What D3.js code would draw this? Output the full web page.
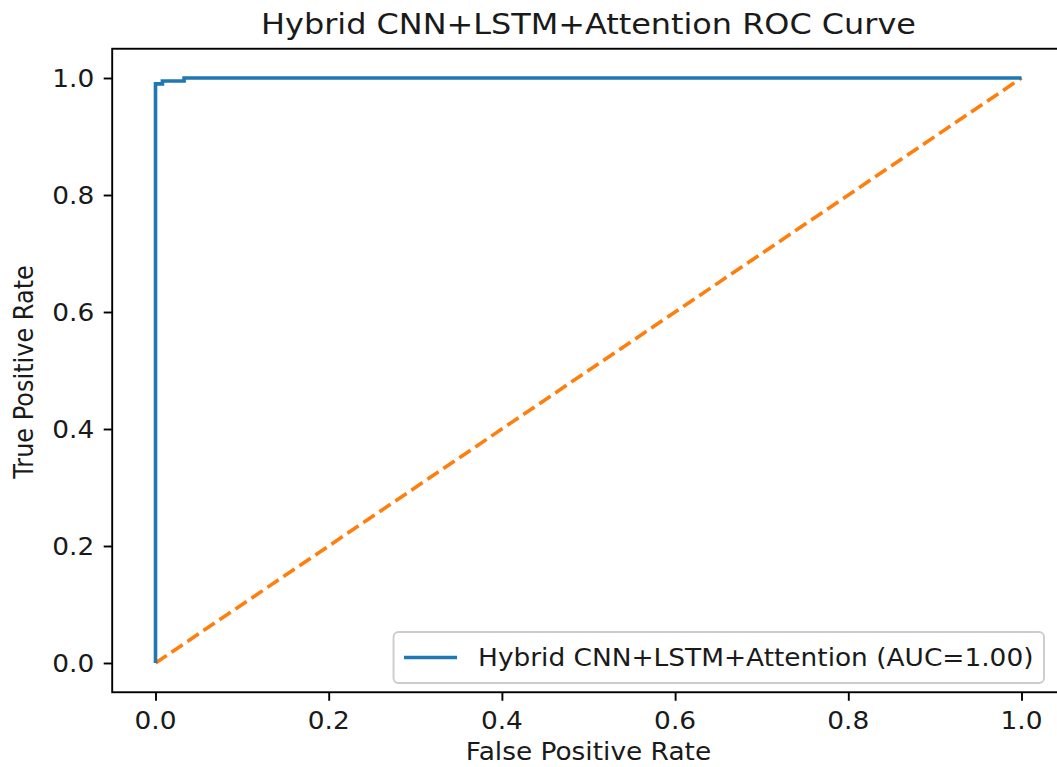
<!DOCTYPE html>
<html><head><meta charset="utf-8">
<script src="https://cdn.jsdelivr.net/npm/d3@7"></script>
<style>body{margin:0;background:#fff}svg{display:block}text{font-family:"DejaVu Sans",sans-serif;fill:#1a1a1a}</style>
</head><body><svg id="c" width="1057" height="767"></svg>
<script>
const title = "Hybrid CNN+LSTM+Attention ROC Curve";
const xLabel = "False Positive Rate";
const yLabel = "True Positive Rate";
const legendLabel = "Hybrid CNN+LSTM+Attention (AUC=1.00)";
const fpr = [0, 0, 0.008, 0.008, 0.033, 0.033, 1.0];
const tpr = [0, 0.990, 0.990, 0.995, 0.995, 1.0, 1.0];
const diagX = [0, 1];
const diagY = [0, 1];
const xTicks = [0, 0.2, 0.4, 0.6, 0.8, 1.0];
const yTicks = [0, 0.2, 0.4, 0.6, 0.8, 1.0];

const SX = 1.1;
const svg = d3.select("#c");
const x0 = 155.5, x1 = 1021.5, y0 = 663, y1 = 78;
const ux = x1 - x0, uy = y0 - y1;
const x = d3.scaleLinear().domain([-0.05, 1.05]).range([x0 - 0.05*ux, x1 + 0.05*ux]);
const y = d3.scaleLinear().domain([-0.05, 1.05]).range([y0 + 0.05*uy, y1 - 0.05*uy]);
const L = x.range()[0], R = x.range()[1], B = y.range()[0], T = y.range()[1];

function txt(px, py, s, size, anchor, rot) {
  const g = svg.append("g").attr("transform", `translate(${px},${py}) scale(${SX},1)` + (rot ? ` rotate(${rot})` : ""));
  return g.append("text").attr("text-anchor", anchor).attr("font-size", size).text(s);
}

// lines
const clip = svg.append("clipPath").attr("id","cl").append("rect").attr("x",L).attr("y",T).attr("width",R-L).attr("height",B-T);
const line = d3.line().x(d => x(d[0])).y(d => y(d[1]));
svg.append("path").datum(diagX.map((v,i)=>[v, diagY[i]])).attr("d", line)
  .attr("fill","none").attr("stroke","#ff7f0e").attr("stroke-width",3.6).attr("stroke-dasharray","13.5,5.8");
svg.append("path").datum(fpr.map((v,i)=>[v, tpr[i]])).attr("d", line)
  .attr("fill","none").attr("stroke","#1f77b4").attr("stroke-width",3.6).attr("stroke-linejoin","miter");

// axes
const xAxis = d3.axisBottom(x).tickValues(xTicks).tickFormat(d3.format(".1f")).tickSize(8.5).tickPadding(9);
const yAxis = d3.axisLeft(y).tickValues(yTicks).tickFormat(d3.format(".1f")).tickSize(8.5).tickPadding(9);
const gx = svg.append("g").attr("transform", `translate(0,${B})`).call(xAxis);
const gy = svg.append("g").attr("transform", `translate(${L},0)`).call(yAxis);
[gx, gy].forEach(g => { g.select(".domain").remove(); g.selectAll("line").attr("stroke","#000").attr("stroke-width",1.9); g.selectAll("text").remove(); });
xTicks.forEach(t => txt(x(t), 729, d3.format(".1f")(t), 24, "middle"));
yTicks.forEach(t => txt(L - 18, y(t) + 8.5, d3.format(".1f")(t), 24, "end"));

// spines
svg.append("rect").attr("x",L).attr("y",T).attr("width",R-L).attr("height",B-T).attr("fill","none").attr("stroke","#000").attr("stroke-width",1.9);

// labels
txt((L+R)/2 > 1057 ? 588 : (L+R)/2, 34, title, 29, "middle");
txt((L+R)/2, 760, xLabel, 24, "middle");
txt(33, 372, yLabel, 24, "middle", -90);

// legend
const legR = 1044, legB = 683, legH = 51;
const tmp = txt(0, 0, legendLabel, 24, "start");
const tw = tmp.node().getComputedTextLength() * SX;
tmp.node().parentNode.remove();
const legW = tw + 10.5*2 + 53 + 21;
const legL = legR - legW, legT = legB - legH;
svg.append("rect").attr("x",legL).attr("y",legT).attr("width",legW).attr("height",legH).attr("rx",5)
  .attr("fill","#fff").attr("fill-opacity",0.8).attr("stroke","#cccccc").attr("stroke-width",1.9);
svg.append("line").attr("x1",legL+10.5).attr("x2",legL+10.5+53).attr("y1",legT+legH/2).attr("y2",legT+legH/2)
  .attr("stroke","#1f77b4").attr("stroke-width",3.6);
txt(legL+10.5+53+21, legT+legH/2+8.5, legendLabel, 24, "start");
</script></body></html>
